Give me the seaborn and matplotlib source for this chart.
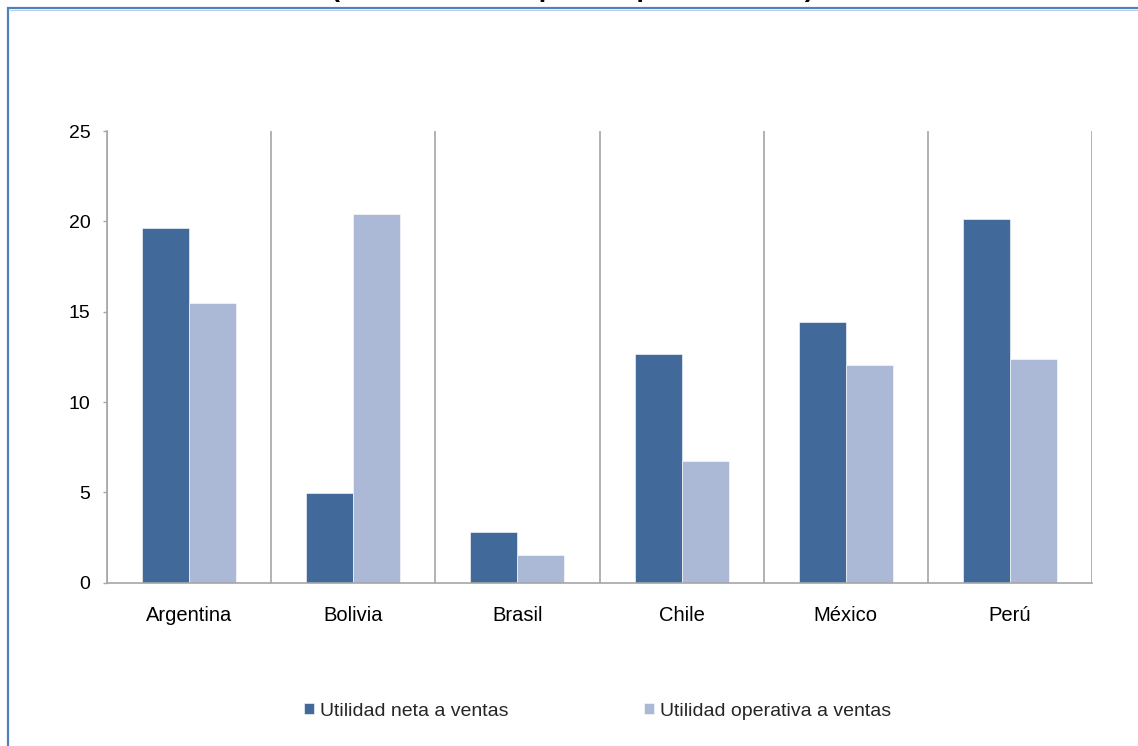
import numpy as np
import pandas as pd
import matplotlib
matplotlib.use("Agg")
import matplotlib.pyplot as plt
from matplotlib.patches import Rectangle
from matplotlib.ticker import FixedLocator
import seaborn as sns

# --- data ---
countries = ["Argentina", "Bolivia", "Brasil", "Chile", "México", "Perú"]
utilidad_neta = [19.65, 4.95, 2.82, 12.64, 14.43, 20.12]
utilidad_operativa = [15.46, 20.39, 1.53, 6.73, 12.03, 12.38]
series_names = ["Utilidad neta a ventas", "Utilidad operativa a ventas"]
yticks = [0, 5, 10, 15, 20, 25]
title_text = "(Indicadores en puntos porcentuales)"

colors = ["#41699A", "#ABB9D6"]

df = pd.DataFrame({
    "pais": countries * 2,
    "valor": utilidad_neta + utilidad_operativa,
    "serie": [series_names[0]] * len(countries) + [series_names[1]] * len(countries),
})

sns.set_theme(style="white")
plt.rcParams["font.family"] = ["Liberation Sans", "DejaVu Sans"]

W, H = 1138, 746
fig = plt.figure(figsize=(W / 100, H / 100), dpi=100)
ax = fig.add_axes([107.3 / W, 1 - 582.7 / H, (1091.7 - 107.3) / W, (582.7 - 131) / H])

sns.barplot(data=df, x="pais", y="valor", hue="serie", palette=colors,
            saturation=1, width=0.573, ax=ax, edgecolor="white", linewidth=0.4)

ax.set_xlim(-0.5, len(countries) - 0.5)
ax.set_ylim(0, 25)
ax.set_yticks(yticks)
ax.set_xlabel("")
ax.set_ylabel("")

# vertical gridlines at category boundaries
ax.xaxis.set_minor_locator(FixedLocator(np.arange(-0.5, len(countries), 1.0)))
ax.grid(False)
ax.grid(True, which="minor", axis="x", color="#A6A6A6", linewidth=1.2)
ax.tick_params(axis="x", which="major", length=0, pad=17, labelsize=14.5, colors="black")
ax.tick_params(axis="x", which="minor", length=4, width=1, color="#A6A6A6", direction="out")
ax.tick_params(axis="y", which="major", length=3.2, width=1, color="#A6A6A6",
               direction="out", pad=9, labelsize=14, labelcolor="black", left=True)

for side in ["top", "right"]:
    ax.spines[side].set_visible(False)
for side in ["left", "bottom"]:
    ax.spines[side].set_color("#A6A6A6")
    ax.spines[side].set_linewidth(1.2)

sns.move_legend(ax, "center", bbox_to_anchor=(597.5 / W, 1 - 711 / H),
                bbox_transform=fig.transFigure, ncol=2, frameon=False, title=None,
                fontsize=14, handlelength=0.52, handleheight=0.52,
                handletextpad=0.3, columnspacing=7.0)

# title, cut off by the top edge as in the reference
fig.text(572 / W, 1 + 3.5 / H, title_text, ha="center", va="baseline",
         fontsize=19.5, fontweight="bold", color="black")

# outer blue frame (only left and top edges visible)
fig.add_artist(Rectangle((7.8 / W, -0.2), 1.5, 1.2 - 8.2 / H, transform=fig.transFigure,
                         fill=False, edgecolor="#4F81BD", linewidth=1.6, clip_on=False))
fig.add_artist(plt.Line2D([9.5 / W, 1], [1 - 9.5 / H, 1 - 9.5 / H], transform=fig.transFigure,
                          color="#B9CDE5", linewidth=0.8))

fig.savefig("out.png", dpi=100)
